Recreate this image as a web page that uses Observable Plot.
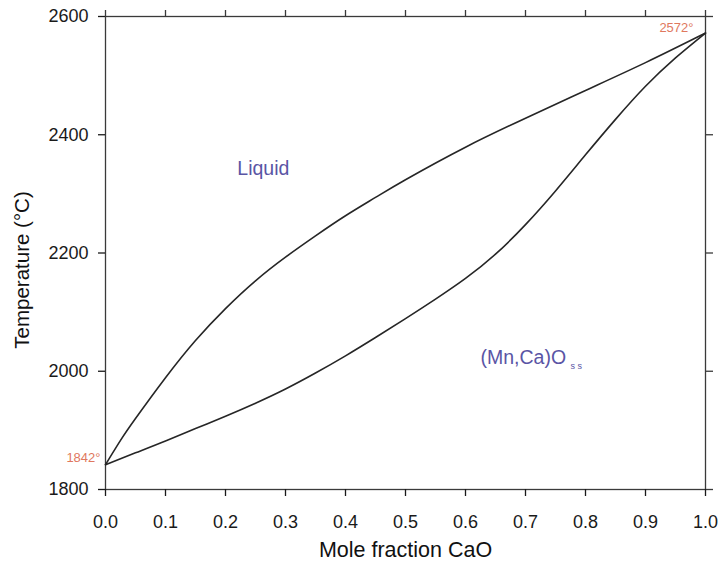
<!DOCTYPE html>
<html>
<head>
<meta charset="utf-8">
<script src="https://cdn.jsdelivr.net/npm/d3@7"></script>
<script src="https://cdn.jsdelivr.net/npm/@observablehq/plot@0.6"></script>
<style>
  html, body { margin: 0; padding: 0; background: #fff; }
  #chart svg { font-family: "Liberation Sans", Arial, Helvetica, sans-serif; display: block; }
</style>
</head>
<body>
<div id="chart"></div>
<script>
// Liquidus (upper boundary): mole fraction CaO vs temperature (°C)
const liquidusX = [0, 0.025, 0.05, 0.1, 0.15, 0.2, 0.25, 0.3, 0.35, 0.4, 0.45, 0.5, 0.6, 0.7, 0.8, 0.9, 1.0];
const liquidusT = [1842, 1883, 1920, 1989, 2052, 2106, 2153, 2193, 2229, 2263, 2294, 2324, 2379, 2428, 2475, 2522, 2572];
// Solidus (lower boundary)
const solidusX = [0, 0.05, 0.1, 0.15, 0.2, 0.25, 0.3, 0.35, 0.4, 0.45, 0.5, 0.55, 0.6, 0.65, 0.7, 0.75, 0.8, 0.85, 0.9, 0.95, 1.0];
const solidusT = [1842, 1862, 1882, 1903, 1924, 1946, 1970, 1997, 2026, 2057, 2089, 2122, 2157, 2198, 2248, 2305, 2366, 2426, 2482, 2530, 2572];

const xTicks = [0, 0.1, 0.2, 0.3, 0.4, 0.5, 0.6, 0.7, 0.8, 0.9, 1.0];
const yTicks = [1800, 2000, 2200, 2400, 2600];

const meltLabels = [
  {x: 0, t: 1842, text: "1842°"},
  {x: 1, t: 2572, text: "2572°"}
];
const liquidLabel = [{x: 0.263, t: 2343, text: "Liquid"}];
const solidLabel = [{x: 0.625, t: 2023, text: "(Mn,Ca)O", sub: "s s"}];

const liquidus = liquidusX.map((x, i) => ({x, t: liquidusT[i]}));
const solidus = solidusX.map((x, i) => ({x, t: solidusT[i]}));

const axisColor = "#3a3a3a";
const labelColor = "#5a55a5";
const meltColor = "#e0785e";

const chart = Plot.plot({
  width: 720,
  height: 561,
  marginLeft: 105,
  marginRight: 15,
  marginTop: 16,
  marginBottom: 72,
  style: {fontFamily: '"Liberation Sans", Arial, Helvetica, sans-serif', background: "#fff"},
  x: {domain: [0, 1]},
  y: {domain: [1800, 2600]},
  marks: [
    Plot.frame({stroke: axisColor, strokeWidth: 1.3}),
    Plot.axisX({anchor: "bottom", ticks: xTicks, tickSize: 7, tickPadding: 19, tickFormat: d => d.toFixed(1), fontSize: 18, color: "#1a1a1a", label: null, strokeWidth: 1.3}),
    Plot.axisX({anchor: "top", ticks: xTicks, tickSize: 7, tickFormat: () => "", label: null, color: axisColor, strokeWidth: 1.3}),
    Plot.axisY({anchor: "left", ticks: yTicks, tickSize: 7, tickPadding: 10, tickFormat: d => String(d), fontSize: 18, color: "#1a1a1a", label: null, strokeWidth: 1.3}),
    Plot.axisY({anchor: "right", ticks: yTicks, tickSize: 7, tickFormat: () => "", label: null, color: axisColor, strokeWidth: 1.3}),
    Plot.line(liquidus, {x: "x", y: "t", curve: "natural", stroke: "#262626", strokeWidth: 1.6}),
    Plot.line(solidus, {x: "x", y: "t", curve: "natural", stroke: "#262626", strokeWidth: 1.6}),
    Plot.text(meltLabels.slice(0, 1), {x: "x", y: "t", text: "text", textAnchor: "end", dx: -5, dy: -7, fill: meltColor, fontSize: 13, clip: false}),
    Plot.text(meltLabels.slice(1), {x: "x", y: "t", text: "text", textAnchor: "end", dx: -12, dy: -5, fill: meltColor, fontSize: 13}),
    Plot.text(liquidLabel, {x: "x", y: "t", text: "text", textAnchor: "middle", fill: labelColor, fontSize: 19.5}),
    Plot.text(solidLabel, {x: "x", y: "t", text: "text", textAnchor: "start", fill: labelColor, fontSize: 19.5}),
    Plot.text(solidLabel, {x: "x", y: "t", text: "sub", textAnchor: "start", dx: 90, dy: 8, fill: labelColor, fontSize: 9}),
    Plot.text(["Temperature (°C)"], {frameAnchor: "left", textAnchor: "middle", lineAnchor: "middle", dx: -83, dy: 17, rotate: -90, fontSize: 20.5, fill: "#111", text: d => d}),
    Plot.text(["Mole fraction CaO"], {frameAnchor: "bottom", textAnchor: "middle", lineAnchor: "middle", dy: 61, fontSize: 21.5, fill: "#111", text: d => d})
  ]
});
document.getElementById("chart").appendChild(chart);
</script>
</body>
</html>
